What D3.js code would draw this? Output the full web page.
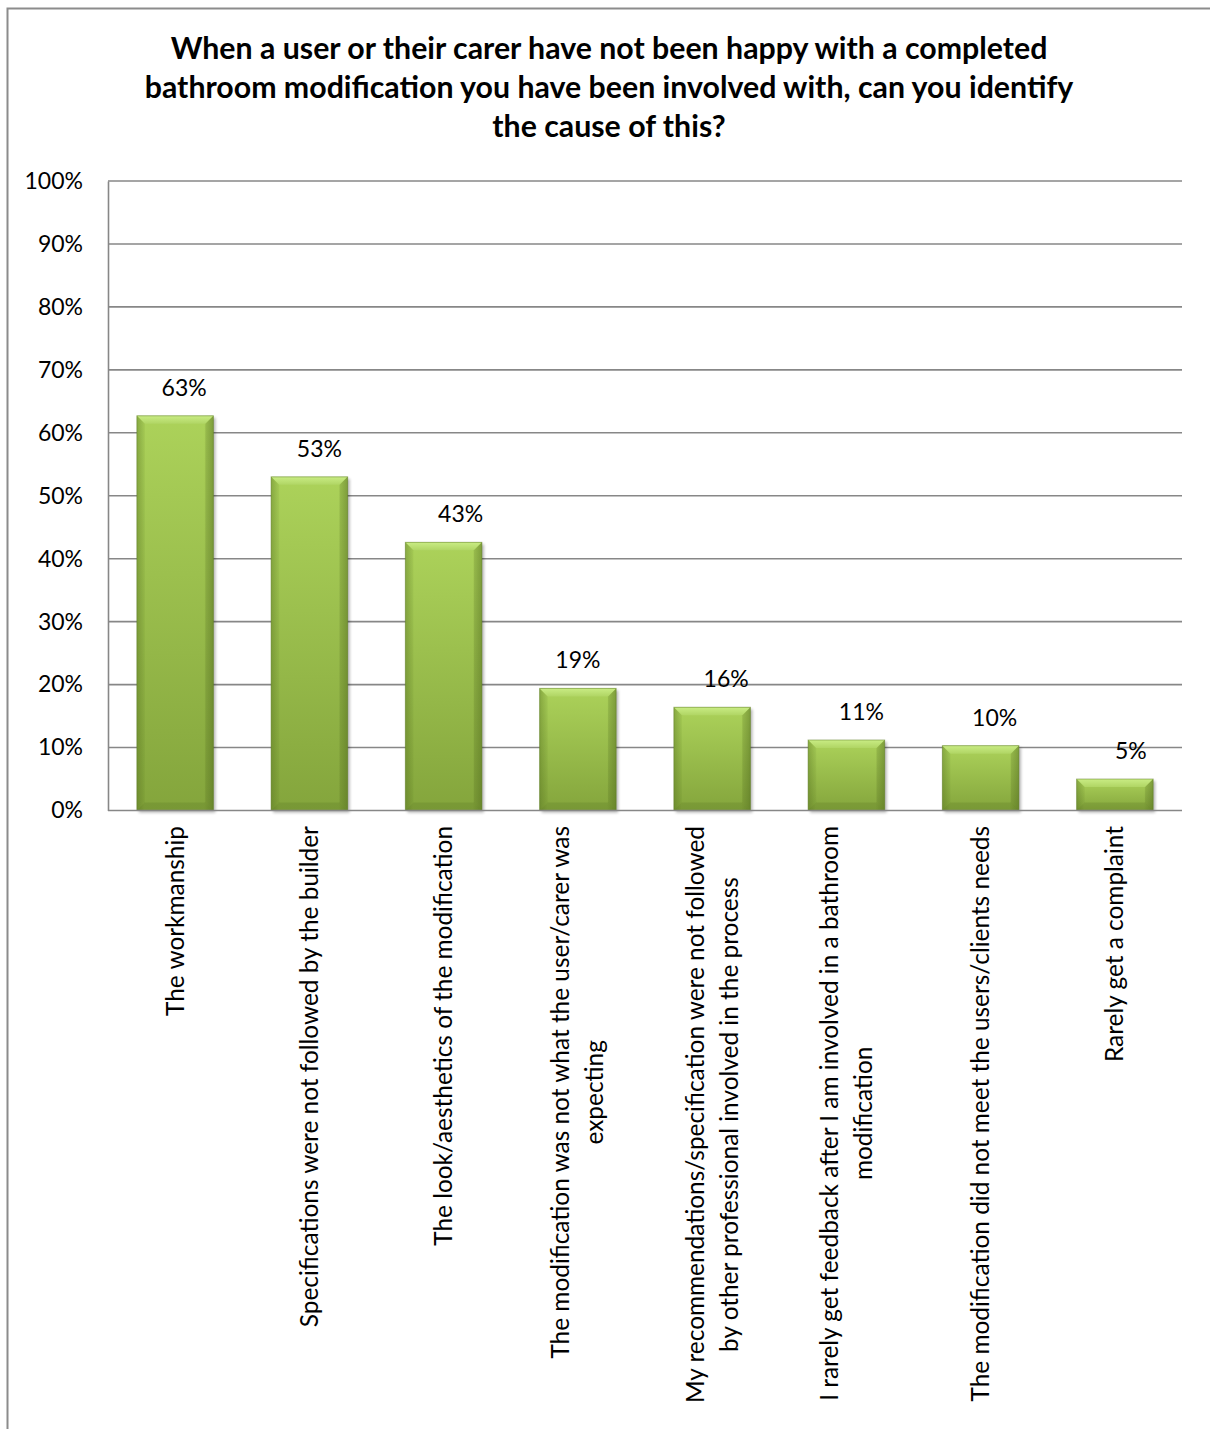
<!DOCTYPE html>
<html>
<head>
<meta charset="utf-8">
<script src="https://cdn.jsdelivr.net/npm/d3@7"></script>
<style>
  html, body { margin: 0; padding: 0; background: #fff; }
  svg { display: block; }
</style>
</head>
<body>
<svg id="chart" width="1210" height="1429"></svg>
<script>
// Survey responses: causes of dissatisfaction with completed bathroom modifications
const titleLines = [
  "When a user or their carer have not been happy with a completed",
  "bathroom modification you have been involved with, can you identify",
  "the cause of this?"
];

const categories = [
  ["The workmanship"],
  ["Specifications were not followed by the builder"],
  ["The look/aesthetics of the modification"],
  ["The modification was not what the user/carer was", "expecting"],
  ["My recommendations/specification were not followed", "by other professional involved in the process"],
  ["I rarely get feedback after I am involved in a bathroom", "modification"],
  ["The modification did not meet the users/clients needs"],
  ["Rarely get a complaint"]
];

const values = [0.627, 0.530, 0.426, 0.194, 0.164, 0.112, 0.103, 0.050];

const yTicks = [0, 0.1, 0.2, 0.3, 0.4, 0.5, 0.6, 0.7, 0.8, 0.9, 1.0];

// small horizontal nudges for the value labels
const labelNudge = [9, 10, 17, 0, 14, 15, 14, 16];

const FONT = "Lato, 'Open Sans', sans-serif";
const svg = d3.select("#chart");
const W = 1210, H = 1429;
const plot = { left: 108, right: 1182, top: 181, bottom: 810.5 };

const keys = categories.map((c, i) => "c" + i);

const x = d3.scaleBand()
  .domain(keys)
  .range([plot.left, plot.right])
  .paddingInner(0.43)
  .paddingOuter(0.215);

const y = d3.scaleLinear()
  .domain([0, 1])
  .range([plot.bottom, plot.top]);

// gradients and filters
const defs = svg.append("defs");
const vg = defs.append("linearGradient").attr("id", "barV")
  .attr("x1", 0).attr("y1", 0).attr("x2", 0).attr("y2", 1);
vg.append("stop").attr("offset", "0%").attr("stop-color", "#acd25a");
vg.append("stop").attr("offset", "100%").attr("stop-color", "#84a53c");

const hg = defs.append("linearGradient").attr("id", "barH")
  .attr("x1", 0).attr("y1", 0).attr("x2", 1).attr("y2", 0);
hg.append("stop").attr("offset", "0%").attr("stop-color", "#4a6418").attr("stop-opacity", 0.3);
hg.append("stop").attr("offset", "10%").attr("stop-color", "#4a6418").attr("stop-opacity", 0);
hg.append("stop").attr("offset", "88%").attr("stop-color", "#4a6418").attr("stop-opacity", 0);
hg.append("stop").attr("offset", "100%").attr("stop-color", "#4a6418").attr("stop-opacity", 0.35);

const topG = defs.append("linearGradient").attr("id", "barTop")
  .attr("x1", 0).attr("y1", 0).attr("x2", 0).attr("y2", 1);
topG.append("stop").attr("offset", "0%").attr("stop-color", "#c9ec84");
topG.append("stop").attr("offset", "100%").attr("stop-color", "#b0d564");

const blur = defs.append("filter").attr("id", "shadow")
  .attr("x", "-20%").attr("y", "-20%").attr("width", "140%").attr("height", "140%");
blur.append("feGaussianBlur").attr("stdDeviation", 1.6);

// background and outer frame
svg.append("rect").attr("width", W).attr("height", H).attr("fill", "#fff");
svg.append("rect")
  .attr("x", 7.5).attr("y", 8.5)
  .attr("width", W + 20).attr("height", H + 20)
  .attr("fill", "none").attr("stroke", "#8c8c8c").attr("stroke-width", 2);

// title
svg.append("g").selectAll("text")
  .data(titleLines)
  .join("text")
  .attr("x", 609)
  .attr("y", (d, i) => 59 + i * 39)
  .attr("text-anchor", "middle")
  .attr("font-family", FONT)
  .attr("font-weight", "bold")
  .attr("font-size", 30.3)
  .attr("fill", "#000")
  .text(d => d);

// gridlines
svg.append("g").selectAll("line")
  .data(yTicks.slice(1))
  .join("line")
  .attr("x1", plot.left).attr("x2", plot.right)
  .attr("y1", d => y(d)).attr("y2", d => y(d))
  .attr("stroke", "#878787").attr("stroke-width", 1.6);

// y axis
const yAxis = svg.append("g")
  .attr("transform", `translate(${plot.left},0)`)
  .call(d3.axisLeft(y).tickValues(yTicks).tickFormat(d3.format(".0%")).tickSize(0).tickPadding(25));
yAxis.select(".domain").attr("stroke", "#878787").attr("stroke-width", 1.6);
yAxis.selectAll("text")
  .attr("font-family", FONT).attr("font-size", 23).attr("fill", "#000");

// bars
const bars = svg.append("g").selectAll("g")
  .data(values.map((v, i) => ({ v, k: keys[i], i })))
  .join("g");

bars.each(function (d) {
  const g = d3.select(this);
  const x0 = x(d.k), w = x.bandwidth();
  const y0 = y(d.v), h = y(0) - y(d.v);
  const b = Math.min(8, h / 2);

  g.append("rect")
    .attr("x", x0 + 2).attr("y", y0 + 2).attr("width", w).attr("height", h)
    .attr("fill", "#000").attr("opacity", 0.3).attr("filter", "url(#shadow)");
  g.append("rect")
    .attr("x", x0).attr("y", y0).attr("width", w).attr("height", h)
    .attr("fill", "url(#barV)");
  g.append("rect")
    .attr("x", x0).attr("y", y0).attr("width", w).attr("height", h)
    .attr("fill", "url(#barH)");
  // bevel faces
  g.append("polygon")
    .attr("points", [[x0, y0], [x0 + w, y0], [x0 + w - b, y0 + b], [x0 + b, y0 + b]].join(" "))
    .attr("fill", "url(#barTop)");
  g.append("polygon")
    .attr("points", [[x0, y0], [x0 + b, y0 + b], [x0 + b, y0 + h - b], [x0, y0 + h]].join(" "))
    .attr("fill", "#3f5512").attr("opacity", 0.07);
  g.append("polygon")
    .attr("points", [[x0 + w, y0], [x0 + w - b, y0 + b], [x0 + w - b, y0 + h - b], [x0 + w, y0 + h]].join(" "))
    .attr("fill", "#3f5512").attr("opacity", 0.14);
  g.append("polygon")
    .attr("points", [[x0, y0 + h], [x0 + b, y0 + h - b], [x0 + w - b, y0 + h - b], [x0 + w, y0 + h]].join(" "))
    .attr("fill", "#3f5512").attr("opacity", 0.16);
  g.append("rect")
    .attr("x", x0).attr("y", y0).attr("width", w).attr("height", h)
    .attr("fill", "none").attr("stroke", "#5f7d25").attr("stroke-opacity", 0.5).attr("stroke-width", 1);
});

// x axis line
svg.append("line")
  .attr("x1", plot.left).attr("x2", plot.right)
  .attr("y1", y(0)).attr("y2", y(0))
  .attr("stroke", "#878787").attr("stroke-width", 1.6);

// value labels
svg.append("g").selectAll("text")
  .data(values)
  .join("text")
  .attr("x", (d, i) => x(keys[i]) + x.bandwidth() / 2 + labelNudge[i])
  .attr("y", d => y(d) - 20)
  .attr("text-anchor", "middle")
  .attr("font-family", FONT).attr("font-size", 23).attr("fill", "#000")
  .text(d => d3.format(".0%")(d));

// category labels, rotated and centred as a block under each bar
const labelTop = 826;
const lineGap = 34;
const catSize = 24.4;
const measure = svg.append("text")
  .attr("font-family", FONT).attr("font-size", catSize).attr("visibility", "hidden");

categories.forEach((lines, i) => {
  let maxW = 0;
  lines.forEach(t => { measure.text(t); maxW = Math.max(maxW, measure.node().getComputedTextLength()); });
  const cx = x(keys[i]) + x.bandwidth() / 2;
  const cy = labelTop + maxW / 2;
  const n = lines.length;
  const g = svg.append("g").attr("transform", `translate(${cx},${cy}) rotate(-90)`);
  lines.forEach((t, j) => {
    g.append("text")
      .attr("x", 0)
      .attr("y", (j - (n - 1) / 2) * lineGap)
      .attr("dy", "0.35em")
      .attr("text-anchor", "middle")
      .attr("font-family", FONT).attr("font-size", catSize).attr("fill", "#000")
      .text(t);
  });
});
measure.remove();
</script>
</body>
</html>
